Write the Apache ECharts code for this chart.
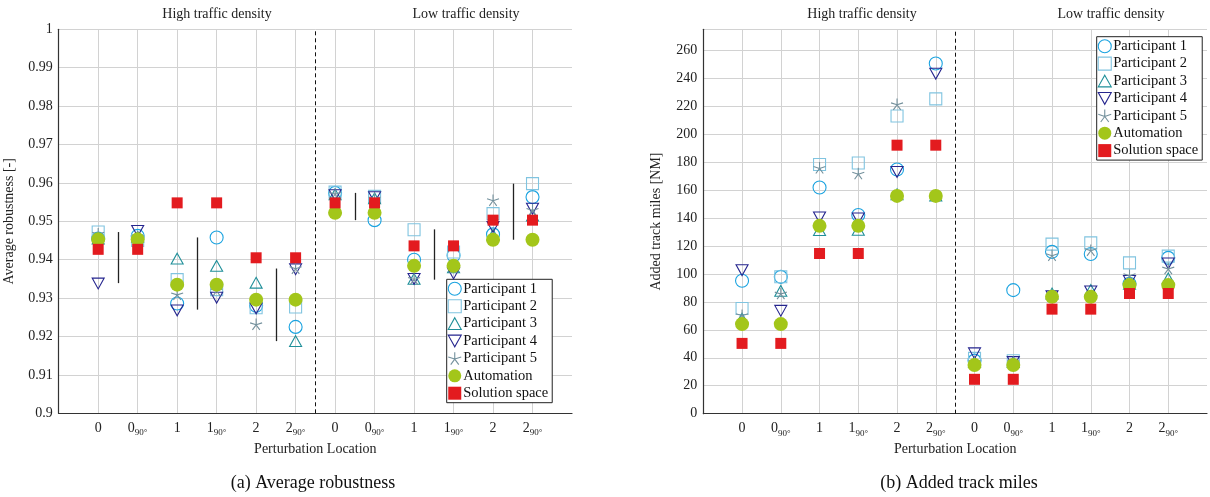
<!DOCTYPE html>
<html><head><meta charset="utf-8">
<script src="https://cdn.jsdelivr.net/npm/echarts@6/dist/echarts.min.js"></script>
<style>html,body{margin:0;padding:0;background:#fff;}#c{width:1210px;height:497px;}</style>
</head><body><div id="c"></div>
<script>
// ---------- data ----------
const tickMain = ['0','0','1','1','2','2','0','0','1','1','2','2'];
const tickSub  = ['','90°','','90°','','90°','','90°','','90°','','90°'];
const seriesNames = ['Participant 1','Participant 2','Participant 3','Participant 4','Participant 5','Automation','Solution space'];

// (a) Average robustness
const robP1 = [0.9455,0.9462,0.9286,0.9458,0.9280,0.9225,0.9574,0.9503,0.9400,0.9411,0.9466,0.9563];
const robP2 = [0.9472,0.9450,0.9348,0.9322,0.9275,0.9277,0.9576,0.9565,0.9478,0.9420,0.9520,0.9598];
const robP3 = [0.9455,0.9460,0.9403,0.9384,0.9340,0.9188,0.9570,0.9560,0.9350,0.9380,0.9465,0.9515];
const robP4 = [0.9338,0.9475,0.9268,0.9301,0.9273,0.9375,0.9568,0.9563,0.9350,0.9364,0.9485,0.9533];
const robP5 = [0.9468,0.9460,0.9310,0.9320,0.9232,0.9378,0.9572,0.9560,0.9350,0.9380,0.9555,0.9530];
const robAuto = [0.9453,0.9453,0.9335,0.9335,0.9296,0.9296,0.9522,0.9522,0.9384,0.9384,0.9452,0.9452];
const robSol  = [0.9427,0.9427,0.9548,0.9548,0.9405,0.9405,0.9548,0.9548,0.9436,0.9436,0.9503,0.9503];
const rangeX    = [0.5,2.5,4.5,6.5,8.5,10.5];
const rangeHigh = [0.9472,0.9458,0.9377,0.9574,0.9479,0.9598];
const rangeLow  = [0.9339,0.9270,0.9188,0.9503,0.9348,0.9452];

// (b) Added track miles
const tmP1 = [95.1,97.9,161.8,142.2,174.7,250.5,38.0,88.4,115.8,114.2,93.0,111.5];
const tmP2 = [75.3,98.0,178.3,179.4,213.0,225.2,39.6,37.9,121.3,122.2,107.9,112.7];
const tmP3 = [68.0,87.9,131.3,131.5,157.0,156.0,37.0,37.0,86.0,88.5,93.0,96.8];
const tmP4 = [102.7,73.6,140.4,139.7,173.0,243.3,43.2,37.0,84.0,87.5,95.0,107.5];
const tmP5 = [70.5,86.0,175.9,171.8,221.4,156.0,37.0,37.0,113.4,117.0,99.1,103.9];
const tmAuto = [64.1,64.1,134.4,134.4,155.8,155.8,34.8,34.8,83.6,83.6,92.0,92.0];
const tmSol  = [50.3,50.3,114.6,114.6,192.1,192.1,24.6,24.6,74.8,74.8,86.0,86.0];

// ---------- style ----------
const FONT = 'Liberation Serif';
const colors = ['#1aa3e0','#80c4e0','#1f8f99','#25258e','#74919d','#a3c61a','#e31b1f'];
const starPath = 'path://M0,0L0,-1M0,0L0.951,-0.309M0,0L0.588,0.809M0,0L-0.588,0.809M0,0L-0.951,-0.309';
const downTri = 'path://M0,0L2,0L1,1.8Z';
const upTri = 'path://M1,0L2,1.8L0,1.8Z';
const symbolDefs = [
  {symbol:'circle', size:13, hollow:true},
  {symbol:'rect', size:12, hollow:true},
  {symbol:upTri, size:12, hollow:true},
  {symbol:downTri, size:12, hollow:true},
  {symbol:starPath, size:12, hollow:true},
  {symbol:'circle', size:14, hollow:false},
  {symbol:'rect', size:11, hollow:false}
];

function pts(arr){ return arr.map((v,i)=>[i,v]); }

function makeSeries(dataSets, gi){
  return dataSets.map((d,k)=>{
    const s = symbolDefs[k];
    return {
      type:'scatter', name:seriesNames[k], xAxisIndex:gi, yAxisIndex:gi,
      data:pts(d), symbol:s.symbol, symbolSize:s.size, symbolKeepAspect:true,
      itemStyle: s.hollow ? {color:'rgba(255,255,255,0)', borderColor:colors[k], borderWidth:1.1, opacity:1}
                          : {color:colors[k], borderWidth:0, opacity:1},
      emphasis:{disabled:true}, z:2+k
    };
  });
}

function xAxisDef(gi){
  return {
    type:'value', gridIndex:gi, min:-1, max:12, interval:1,
    name:'Perturbation Location', nameLocation:'middle', nameGap:26,
    nameTextStyle:{fontFamily:FONT, fontSize:14, color:'#222'},
    axisLine:{show:true, onZero:false, lineStyle:{color:'#333', width:1.2}},
    axisTick:{show:false},
    splitLine:{show:true, showMaxLine:false, lineStyle:{color:'#d2d2d2', width:1}},
    axisLabel:{
      margin:7, color:'#222', fontFamily:FONT, fontSize:14,
      formatter:(v)=>{
        const i = Math.round(v);
        if (i<0 || i>11) return '';
        return tickSub[i] ? '{n|'+tickMain[i]+'}{s|'+tickSub[i]+'}' : '{n|'+tickMain[i]+'}';
      },
      rich:{
        n:{fontFamily:FONT, fontSize:14, color:'#222', height:16, verticalAlign:'top'},
        s:{fontFamily:FONT, fontSize:9, color:'#222', verticalAlign:'bottom', padding:[8,0,0,0]}
      }
    }
  };
}

function yAxisDef(gi, min, max, interval, name, fmt){
  return {
    type:'value', gridIndex:gi, min:min, max:max, interval:interval,
    name:name, nameLocation:'middle', nameGap:gi===0?42:40, nameRotate:90,
    nameTextStyle:{fontFamily:FONT, fontSize:14, color:'#222'},
    axisLine:{show:true, onZero:false, lineStyle:{color:'#333', width:1.2}},
    axisTick:{show:false},
    splitLine:{show:true, lineStyle:{color:'#d2d2d2', width:1}},
    axisLabel:{margin:6, color:'#222', fontFamily:FONT, fontSize:14, formatter:fmt, showMaxLabel: gi===0}
  };
}

const sepLine = (gi)=>({
  type:'line', name:'sep'+gi, xAxisIndex:gi, yAxisIndex:gi, data:[], silent:true,
  markLine:{symbol:'none', silent:true, label:{show:false}, animation:false,
    lineStyle:{type:[4,3], color:'#111', width:1},
    data:[{xAxis:5.5}]}
});

const rangeSeries = {
  type:'line', name:'ranges', xAxisIndex:0, yAxisIndex:0, data:[], silent:true,
  markLine:{symbol:'none', silent:true, label:{show:false}, animation:false,
    lineStyle:{type:'solid', color:'#222', width:1.3},
    data: rangeX.map((x,i)=>[{coord:[x,rangeHigh[i]]},{coord:[x,rangeLow[i]]}])}
};

function legendDef(left, top){
  return {
    data:seriesNames, orient:'vertical', left:left, top:top,
    backgroundColor:'#fff', borderColor:'#222', borderWidth:1,
    padding:[2,4,2,1], itemGap:2.4, itemWidth:13, itemHeight:13,
    itemStyle:{borderWidth:1.1, opacity:1},
    textStyle:{fontFamily:FONT, fontSize:14.5, color:'#111', padding:[0,0,0,-3]},
    selectedMode:false
  };
}

const option = {
  animation:false,
  grid:[
    {left:58.7, top:29.3, width:513.3, height:384},
    {left:703.3, top:29.3, width:512.9, height:384.4}
  ],
  xAxis:[xAxisDef(0), xAxisDef(1)],
  yAxis:[
    yAxisDef(0, 0.9, 1, 0.01, 'Average robustness [-]', v=>String(+v.toFixed(3))),
    yAxisDef(1, 0, 275, 20, 'Added track miles [NM]', v=>String(Math.round(v)))
  ],
  legend:[legendDef(446.7,279.3), legendDef(1096.7,36.7)],
  series:[
    sepLine(0), sepLine(1), rangeSeries,
    ...makeSeries([robP1,robP2,robP3,robP4,robP5,robAuto,robSol],0),
    ...makeSeries([tmP1,tmP2,tmP3,tmP4,tmP5,tmAuto,tmSol],1)
  ],
  graphic:[
    {type:'text', style:{x:217, y:14, text:'High traffic density', font:'14px '+FONT, fill:'#222', align:'center', verticalAlign:'middle'}},
    {type:'text', style:{x:466, y:14, text:'Low traffic density', font:'14px '+FONT, fill:'#222', align:'center', verticalAlign:'middle'}},
    {type:'text', style:{x:862, y:14, text:'High traffic density', font:'14px '+FONT, fill:'#222', align:'center', verticalAlign:'middle'}},
    {type:'text', style:{x:1111, y:14, text:'Low traffic density', font:'14px '+FONT, fill:'#222', align:'center', verticalAlign:'middle'}},
    {type:'text', style:{x:313, y:483, text:'(a) Average robustness', font:'18px '+FONT, fill:'#111', align:'center', verticalAlign:'middle'}},
    {type:'text', style:{x:959, y:483, text:'(b) Added track miles', font:'18px '+FONT, fill:'#111', align:'center', verticalAlign:'middle'}}
  ]
};

const chart = echarts.init(document.getElementById('c'), null, {renderer:'canvas'});
chart.setOption(option);
</script>
</body></html>
